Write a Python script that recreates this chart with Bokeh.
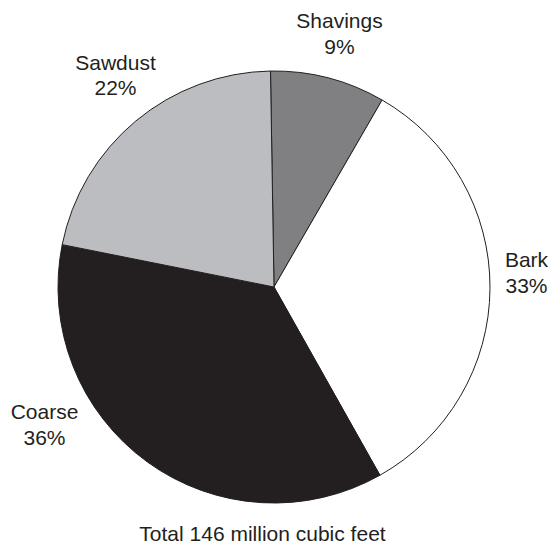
import math
from bokeh.plotting import figure
from bokeh.models import ColumnDataSource, Range1d
from bokeh.core.properties import value
from bokeh.embed import file_html
from bokeh.resources import INLINE

# Data (clockwise from top)
categories = ["Shavings", "Bark", "Coarse", "Sawdust"]
shares = [8.6, 33.5, 36.3, 21.6]
pct_labels = ["9%", "33%", "36%", "22%"]
colors = ["#808082", "#ffffff", "#231f20", "#bcbdc0"]
caption = "Total 146 million cubic feet"

W, H = 551, 549

def px(x):
    return x

def py(y):
    return H - y

cx, cy, r = px(273.5), py(286.5), 216
top = math.radians(90.93)
total = sum(shares)

starts, ends = [], []
cum = 0.0
for s in shares:
    a_end = top - 2 * math.pi * cum / total
    cum += s
    a_start = top - 2 * math.pi * cum / total
    starts.append(a_start)
    ends.append(a_end)

src = ColumnDataSource(dict(cat=categories, share=shares, start=starts, end=ends, color=colors))

p = figure(width=W, height=H, output_backend="svg", toolbar_location=None,
           x_range=Range1d(0, W), y_range=Range1d(0, H), min_border=0)
p.axis.visible = False
p.grid.visible = False
p.outline_line_color = None
p.background_fill_color = "white"
p.border_fill_color = "white"

p.wedge(x=cx, y=cy, radius=r, start_angle="start", end_angle="end", source=src,
        fill_color="color", line_color="#231f20", line_width=1)

# label positions (screen px) for name / pct lines
label_pos = {
    "Shavings": (339, 20, 46),
    "Bark": (526, 259, 285),
    "Coarse": (44, 411, 437),
    "Sawdust": (115, 62, 87),
}
tx, ty, tt = [], [], []
for c, pl in zip(categories, pct_labels):
    x, y1, y2 = label_pos[c]
    tx += [px(x), px(x)]
    ty += [py(y1), py(y2)]
    tt += [c, pl]
tx.append(px(262))
ty.append(py(533))
tt.append(caption)

p.text(x=tx, y=ty, text=tt, text_font=value("Liberation Sans"), text_font_size="21px",
       text_color="#231f20", text_align="center", text_baseline="middle")

open("out.html", "w").write(file_html(p, INLINE))
